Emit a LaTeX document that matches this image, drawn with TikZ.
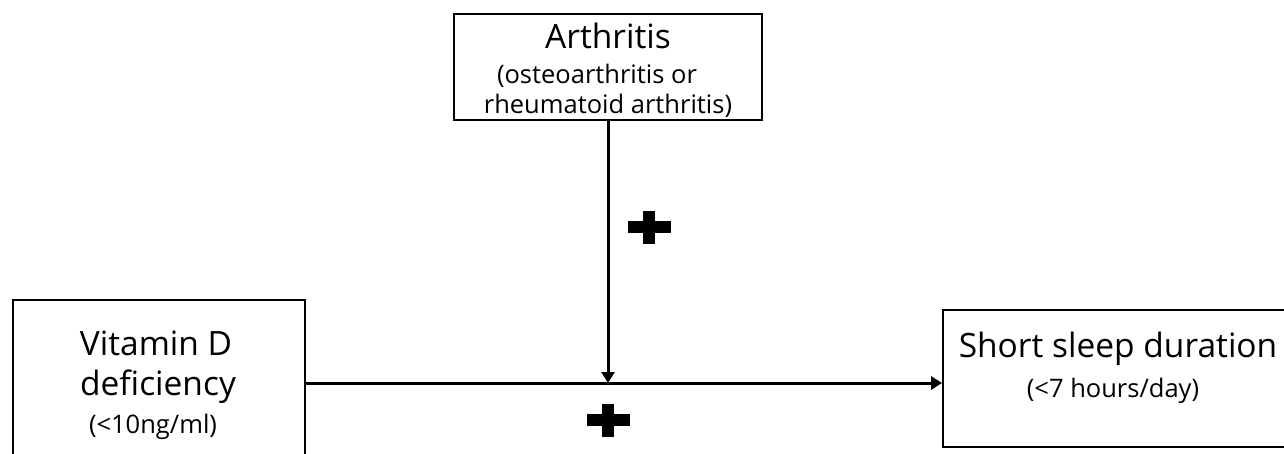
\documentclass[tikz,border=0pt]{standalone}
\usepackage{fontspec}
\setmainfont{Open Sans}
\usetikzlibrary{arrows.meta}
\begin{document}
\begin{tikzpicture}[x=1pt,y=-1pt,
  box/.style={draw, line width=1.8pt, inner sep=0pt},
  big/.style={font=\fontsize{33.5}{40}\selectfont, anchor=base, inner sep=0pt},
  small/.style={font=\fontsize{25.5}{30}\selectfont, anchor=base, inner sep=0pt},
  conn/.style={line width=3pt, -{Triangle[length=11pt,width=13pt]}},
  plusmark/.pic={\fill (-21.5,-5.7) rectangle (21.5,5.7); \fill (-6,-16.5) rectangle (6,16.5);}
]
\useasboundingbox (0,0) rectangle (1284,453);
\clip (0,0) rectangle (1284,453);
% boxes
\node[box, minimum width=308pt, minimum height=106pt] (art) at (608,67) {};
\node[box, minimum width=292pt, minimum height=166pt] (vit) at (159,383) {};
\node[box, minimum width=367pt, minimum height=137pt] (sleep) at (1126.5,378.5) {};
% texts
\node[big] (t1) at (608,48) {Arthritis};
\node[small] (t2) at (597,83) {(osteoarthritis or};
\node[small] (t3) at (608,113) {rheumatoid arthritis)};
\node[big] (t4) at (156,355) {Vitamin D};
\node[big] (t5) at (158,395) {deficiency};
\node[small] (t6) at (153,433) {(<10ng/ml)};
\node[big] (t7) at (1118,357) {Short sleep duration};
\node[small] (t8) at (1113,397) {(<7 hours/day)};
% connectors
\draw[conn] (vit.east) -- (vit.east -| sleep.west);
\draw[conn] (art.south) -- (art.south |- vit.east);
% plus marks
\pic at (649,227) {plusmark};
\pic at (608,420) {plusmark};
\end{tikzpicture}
\end{document}
